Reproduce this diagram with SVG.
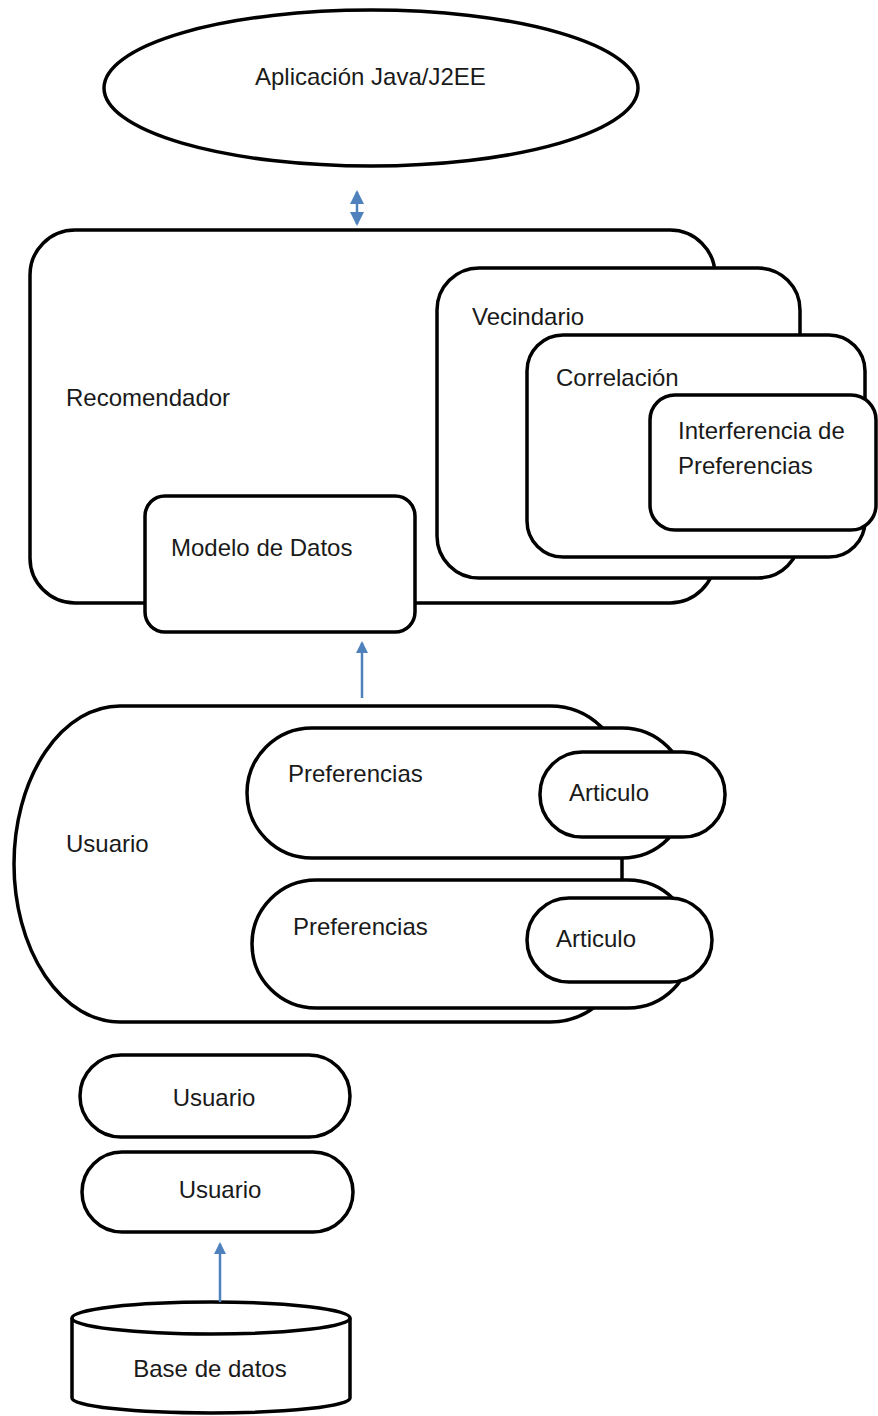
<svg xmlns="http://www.w3.org/2000/svg" width="878" height="1416" viewBox="0 0 878 1416">
<style>
.s{fill:#fff;stroke:#000;stroke-width:3.5}
.t{font-family:"Liberation Sans",Arial,sans-serif;font-size:24px;fill:#1a1a1a}
.c{text-anchor:middle}
.a{stroke:#4f81bd;stroke-width:2.5;fill:none}
</style>
<defs>
<marker id="ah" markerUnits="userSpaceOnUse" markerWidth="12" markerHeight="14" viewBox="0 0 12 14" refX="10" refY="6" orient="auto-start-reverse">
<path d="M0,0 L12,6 L0,12 z" fill="#4f81bd"/>
</marker>
<marker id="ah2" markerUnits="userSpaceOnUse" markerWidth="14" markerHeight="16" viewBox="0 0 14 16" refX="12" refY="7" orient="auto-start-reverse">
<path d="M0,0 L14,7 L0,14 z" fill="#4f81bd"/>
</marker>
</defs>
<g id="app"><ellipse class="s" cx="371" cy="88" rx="267" ry="78"/><text class="t" x="255" y="85">Aplicación Java/J2EE</text></g>
<g id="recomendador"><rect class="s" x="30" y="230" width="685" height="373" rx="45"/><text class="t" x="66" y="406">Recomendador</text></g>
<g id="modelo"><rect class="s" x="145" y="496" width="270" height="136" rx="20"/><text class="t" x="171" y="556">Modelo de Datos</text></g>
<g id="vecindario"><rect class="s" x="437" y="268" width="363" height="310" rx="42"/><text class="t" x="472" y="325">Vecindario</text></g>
<g id="correlacion"><rect class="s" x="527" y="335" width="338" height="222" rx="36"/><text class="t" x="556" y="386">Correlación</text></g>
<g id="interferencia"><rect class="s" x="650" y="395" width="226" height="135" rx="25"/><text class="t" x="678" y="439">Interferencia de</text><text class="t" x="678" y="474">Preferencias</text></g>
<g id="usuario"><path class="s" d="M120,706 L550,706 A72 70 0 0 1 622,776 L622,952 A72 70 0 0 1 550,1022 L120,1022 A106 158 0 0 1 120,706 Z"/><text class="t" x="66" y="852">Usuario</text></g>
<g id="pref1"><rect class="s" x="247" y="728" width="440" height="130" rx="65"/><text class="t" x="288" y="782">Preferencias</text></g>
<g id="art1"><rect class="s" x="540" y="752" width="185" height="85" rx="42"/><text class="t" x="569" y="801">Articulo</text></g>
<g id="pref2"><rect class="s" x="252" y="880" width="440" height="128" rx="64"/><text class="t" x="293" y="935">Preferencias</text></g>
<g id="art2"><rect class="s" x="527" y="898" width="185" height="84" rx="42"/><text class="t" x="556" y="947">Articulo</text></g>
<g id="usuario1"><rect class="s" x="80" y="1055" width="270" height="82" rx="41"/><text class="t c" x="214" y="1106">Usuario</text></g>
<g id="usuario2"><rect class="s" x="82" y="1152" width="271" height="80" rx="40"/><text class="t c" x="220" y="1198">Usuario</text></g>
<g id="db"><path class="s" d="M72,1318 L72,1398 A139 15 0 0 0 350,1398 L350,1318"/><ellipse class="s" cx="211" cy="1318" rx="139" ry="16"/><text class="t c" x="210" y="1377">Base de datos</text></g>
<g id="connectors">
<line class="a" x1="357" y1="192" x2="357" y2="224" stroke-width="3" marker-start="url(#ah2)" marker-end="url(#ah2)"/>
<line class="a" x1="362" y1="698" x2="362" y2="643" marker-end="url(#ah)"/>
<line class="a" x1="220" y1="1302" x2="220" y2="1244" marker-end="url(#ah)"/>
</g>
</svg>
